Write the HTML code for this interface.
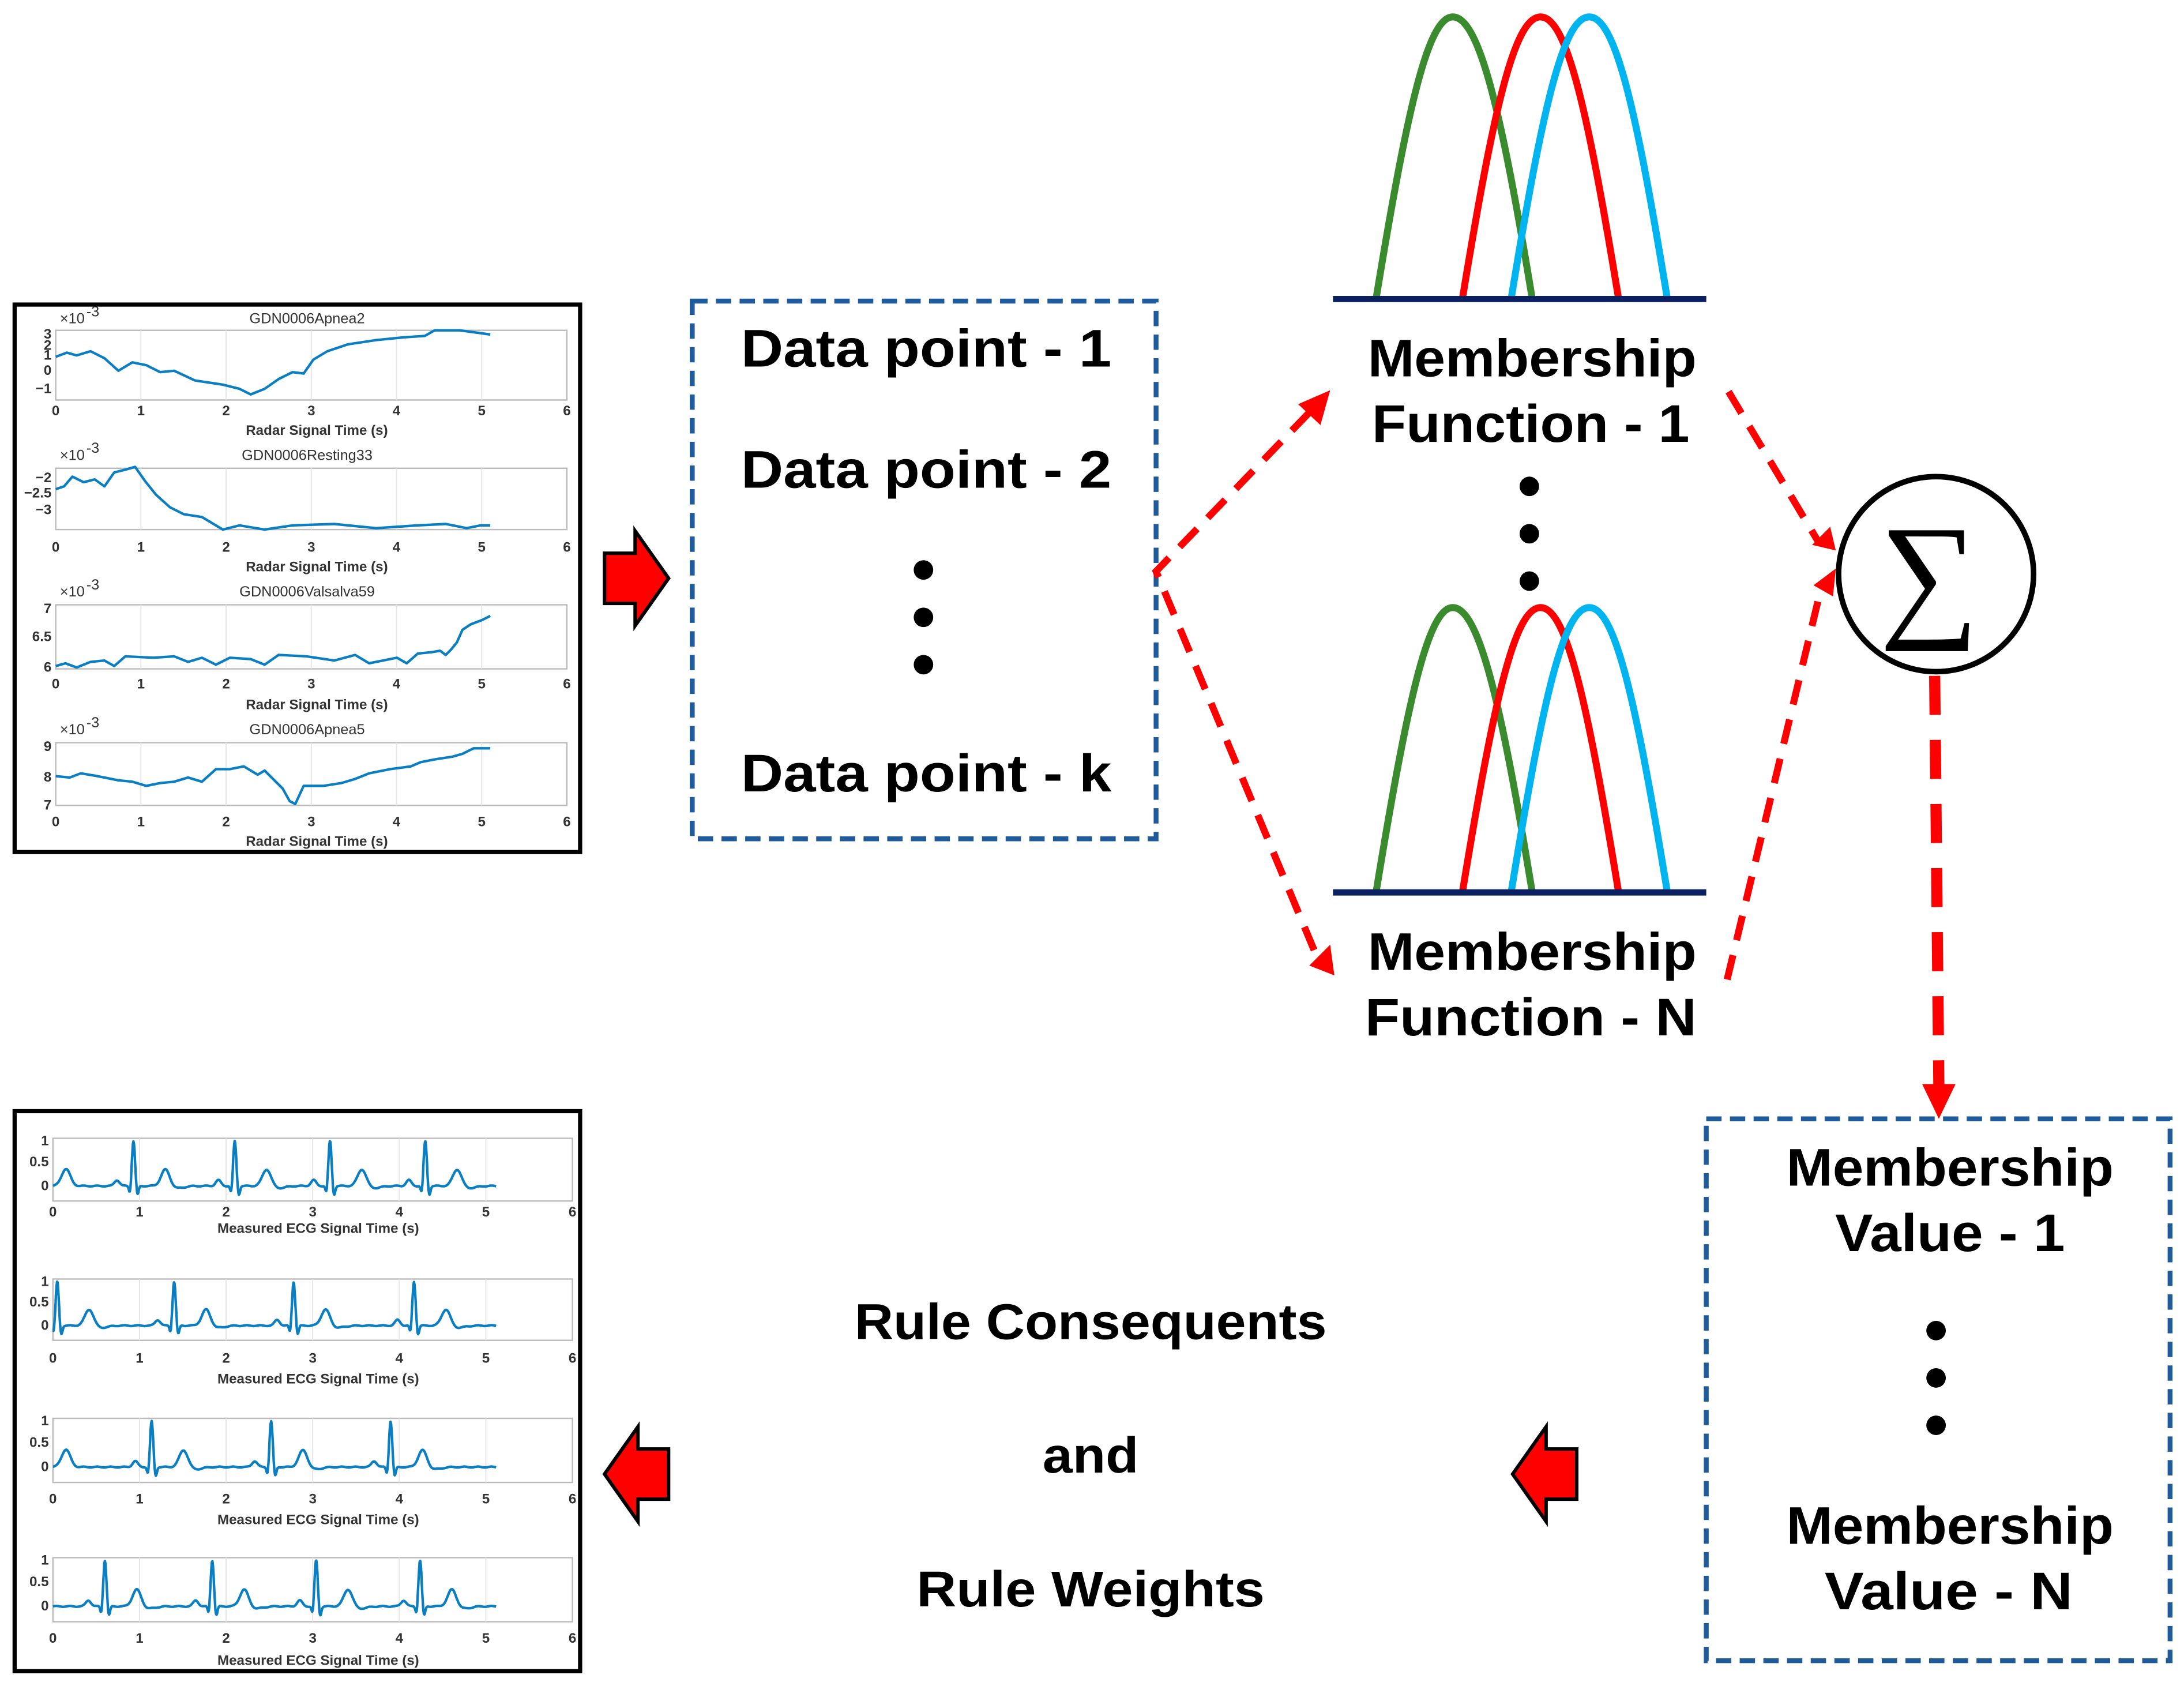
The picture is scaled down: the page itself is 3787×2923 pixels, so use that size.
<!DOCTYPE html>
<html><head><meta charset="utf-8"><style>
html,body{margin:0;padding:0;background:#fff;}
svg{display:block;}
.t{font-family:"Liberation Sans",sans-serif;font-weight:bold;fill:#000;}
.tk{font-family:"Liberation Sans",sans-serif;font-weight:bold;fill:#333;font-size:10px;}
.tt{font-family:"Liberation Sans",sans-serif;fill:#333;font-size:10.5px;}
</style></head><body>
<svg id="s" width="3787" height="2923" viewBox="0 0 1568 1210" xmlns="http://www.w3.org/2000/svg">
<rect x="0" y="0" width="1568" height="1210" fill="#fff"/>
<g id="plots"></g>

<rect x="10.5" y="218.5" width="406" height="393" fill="none" stroke="#000" stroke-width="3"/>
<rect x="10.5" y="797.5" width="406" height="402" fill="none" stroke="#000" stroke-width="3"/>

<polygon points="434,397 456,397 456,381 480,415 456,449 456,433 434,433" fill="#f00" stroke="#000" stroke-width="2.5"/>
<polygon points="480,1040 458,1040 458,1024 434,1058 458,1092 458,1076 480,1076" fill="#f00" stroke="#000" stroke-width="2.5"/>
<polygon points="1132,1040 1110,1040 1110,1024 1086,1058 1110,1092 1110,1076 1132,1076" fill="#f00" stroke="#000" stroke-width="2.5"/>

<rect x="497" y="216" width="333" height="386" fill="none" stroke="#1f5b9a" stroke-width="3.5" stroke-dasharray="11,6"/>
<rect x="1225" y="803" width="333" height="389" fill="none" stroke="#1f5b9a" stroke-width="3.5" stroke-dasharray="11,6"/>

<text class="t" x="665" y="263" font-size="38" text-anchor="middle" textLength="266" lengthAdjust="spacingAndGlyphs">Data point - 1</text>
<text class="t" x="665" y="350" font-size="38" text-anchor="middle" textLength="266" lengthAdjust="spacingAndGlyphs">Data point - 2</text>
<text class="t" x="665" y="568" font-size="38" text-anchor="middle" textLength="266" lengthAdjust="spacingAndGlyphs">Data point - k</text>
<circle cx="663" cy="409" r="7"/><circle cx="663" cy="443" r="7"/><circle cx="663" cy="477" r="7"/>

<g fill="none" stroke-width="5" stroke-linecap="butt">
<path d="M988,214 C1010,80 1025,12 1043,12 C1062,12 1078,80 1100,214" stroke="#3a8a2e"/>
<path d="M1050,214 C1072,80 1087,12 1106,12 C1125,12 1140,80 1162,214" stroke="#f00"/>
<path d="M1085,214 C1107,80 1122,12 1141,12 C1160,12 1175,80 1197,214" stroke="#00b4f0"/>
<path d="M988,640 C1010,506 1025,436 1043,436 C1062,436 1078,506 1100,640" stroke="#3a8a2e"/>
<path d="M1050,640 C1072,506 1087,436 1106,436 C1125,436 1140,506 1162,640" stroke="#f00"/>
<path d="M1085,640 C1107,506 1122,436 1141,436 C1160,436 1175,506 1197,640" stroke="#00b4f0"/>
</g>
<line x1="957" y1="214.5" x2="1225" y2="214.5" stroke="#0b2060" stroke-width="4.5"/>
<line x1="957" y1="640.5" x2="1225" y2="640.5" stroke="#0b2060" stroke-width="4.5"/>

<text class="t" x="1100" y="270" font-size="38" text-anchor="middle" textLength="236" lengthAdjust="spacingAndGlyphs">Membership</text>
<text class="t" x="1099" y="317" font-size="38" text-anchor="middle" textLength="228" lengthAdjust="spacingAndGlyphs">Function - 1</text>
<circle cx="1098" cy="349" r="7"/><circle cx="1098" cy="383" r="7"/><circle cx="1098" cy="417" r="7"/>
<text class="t" x="1100" y="696" font-size="38" text-anchor="middle" textLength="236" lengthAdjust="spacingAndGlyphs">Membership</text>
<text class="t" x="1099" y="743" font-size="38" text-anchor="middle" textLength="238" lengthAdjust="spacingAndGlyphs">Function - N</text>

<circle cx="1390" cy="412" r="70" fill="#fff" stroke="#000" stroke-width="4"/>
<text x="1385" y="446" font-family="Liberation Serif,serif" font-size="100" text-anchor="middle">∑</text>

<g stroke="#f00" stroke-width="5" fill="none" stroke-dasharray="18,11">
<polyline points="940,296 830,410 946,688"/>
<line x1="1241" y1="281" x2="1305" y2="388"/>
<line x1="1240" y1="703" x2="1306" y2="428"/>
</g>
<line x1="1389" y1="485" x2="1392" y2="780" stroke="#f00" stroke-width="8" stroke-dasharray="28,18"/>
<g fill="#f00">
<polygon points="955,280 948,305 932,290"/>
<polygon points="958,700 940,693 955,678"/>
<polygon points="1318,395 1301,391 1314,378"/>
<polygon points="1318,408 1316,428 1302,420"/>
<polygon points="1380,778 1404,778 1392,803"/>
</g>

<text class="t" x="1400" y="851" font-size="38" text-anchor="middle" textLength="235" lengthAdjust="spacingAndGlyphs">Membership</text>
<text class="t" x="1400" y="898" font-size="38" text-anchor="middle" textLength="165" lengthAdjust="spacingAndGlyphs">Value - 1</text>
<circle cx="1390" cy="955" r="7"/><circle cx="1390" cy="989" r="7"/><circle cx="1390" cy="1023" r="7"/>
<text class="t" x="1400" y="1108" font-size="38" text-anchor="middle" textLength="235" lengthAdjust="spacingAndGlyphs">Membership</text>
<text class="t" x="1399" y="1155" font-size="38" text-anchor="middle" textLength="178" lengthAdjust="spacingAndGlyphs">Value - N</text>

<text class="t" x="783" y="961" font-size="36" text-anchor="middle" textLength="339" lengthAdjust="spacingAndGlyphs">Rule Consequents</text>
<text class="t" x="783" y="1057" font-size="36" text-anchor="middle" textLength="69" lengthAdjust="spacingAndGlyphs">and</text>
<text class="t" x="783" y="1153" font-size="36" text-anchor="middle" textLength="250" lengthAdjust="spacingAndGlyphs">Rule Weights</text>
</svg>
<script>
(function(){
var NS="http://www.w3.org/2000/svg",g=document.getElementById("plots");
function el(n,a,txt){var e=document.createElementNS(NS,n);for(var k in a)e.setAttribute(k,a[k]);if(txt!=null)e.textContent=txt;g.appendChild(e);return e;}
function axes(x0,x6,top,bot,tickY,label,labY,labSize,title,titleY,ylabels){
  el("rect",{x:x0,y:top,width:x6-x0,height:bot-top,fill:"#fff",stroke:"#bbb","stroke-width":1});
  for(var i=1;i<6;i++){var x=x0+(x6-x0)*i/6;el("line",{x1:x,y1:top,x2:x,y2:bot,stroke:"#e6e6e6","stroke-width":0.8});}
  for(var i=0;i<=6;i++){var x=x0+(x6-x0)*i/6;el("text",{x:x,y:tickY,"class":"tk","text-anchor":"middle"},String(i));}
  el("text",{x:(x0+x6)/2+4,y:labY,"class":"tk","text-anchor":"middle","font-size":labSize},label);
  if(title){el("text",{x:(x0+x6)/2-3,y:titleY,"class":"tt","text-anchor":"middle"},title);
    el("text",{x:x0+3,y:titleY,"class":"tt","font-size":"9"},"×10");el("text",{x:x0+22,y:titleY-5,"class":"tt","font-size":"7"},"-3");}
  (ylabels||[]).forEach(function(l){el("text",{x:x0-3,y:l[1]+3,"class":"tk","text-anchor":"end","font-size":l[2]||10},l[0]);});
}
function line(pts){el("polyline",{points:pts,fill:"none",stroke:"#0a7ec2","stroke-width":1.8,"stroke-linejoin":"round"});}
axes(40,407,237,287,298,"Radar Signal Time (s)",312,11,"GDN0006Apnea2",232,[["3",240],["2",248],["1",255],["0",266],["−1",279]]);
line("40,256 48,253 55,255 65,252 75,257 85,266 95,260 105,262 115,267 125,266 140,273 160,276 172,279 180,283 190,279 200,272 210,267 218,268 225,258 235,252 250,247 270,244 290,242 305,241 312,237 330,237 345,239 352,240");
axes(40,407,336,380,396,"Radar Signal Time (s)",410,11,"GDN0006Resting33",330,[["−2",343],["−2.5",354],["−3",366]]);
line("40,351 46,349 52,342 60,346 68,344 75,349 82,339 90,337 97,335 104,345 112,355 122,364 132,369 145,371 160,380 172,377 190,380 210,377 240,376 270,379 300,377 320,376 335,379 345,377 352,377");
axes(40,407,434,480,494,"Radar Signal Time (s)",509,11,"GDN0006Valsalva59",428,[["7",437],["6.5",457],["6",479]]);
line("40,478 47,476 55,479 65,475 75,474 82,478 90,471 110,472 125,471 135,475 145,472 155,477 165,472 180,473 190,477 200,470 220,471 240,474 255,470 265,476 275,474 285,472 292,476 300,469 310,468 316,467 320,470 324,466 328,461 332,452 338,448 346,445 352,442");
axes(40,407,533,578,593,"Radar Signal Time (s)",607,11,"GDN0006Apnea5",527,[["9",536],["8",558],["7",578]]);
line("40,557 50,558 58,555 70,557 85,560 95,561 105,564 115,562 125,561 135,558 145,561 155,552 165,552 175,550 185,556 190,553 197,560 203,566 208,575 212,577 218,564 232,564 245,562 255,559 265,555 280,552 295,550 302,547 312,545 325,543 332,541 340,537 352,537");
function ecg(x0,x6,top,bot,beats,extraT){
  var base=top+(bot-top)*0.76, amp=(base-top-1), sx=(x6-x0)/6, pts=[];
  function g1(t,c,w){return Math.exp(-((t-c)*(t-c))/(2*w*w));}
  for(var t=0;t<=5.12;t+=0.006){
    var v=0.01*Math.sin(t*40);
    beats.forEach(function(r){v+=0.13*g1(t,r-0.19,0.03)-0.18*g1(t,r-0.04,0.012)+g1(t,r,0.018)-0.22*g1(t,r+0.045,0.014)+0.38*g1(t,r+0.37,0.05)-0.05*g1(t,r+0.5,0.08);});
    (extraT||[]).forEach(function(c){v+=0.38*g1(t,c,0.05);});
    pts.push((x0+t*sx).toFixed(1)+","+(base-v*amp*0.97).toFixed(1));
  }
  return {pts:pts.join(" "),yl:[["1",top+2],["0.5",top+(base-top)/2],["0",base]]};
}
var E=[[817,862,873,"Measured ECG Signal Time (s)",885,8,[0.93,2.1,3.2,4.3],[0.15],true],
       [918,962,978,"Measured ECG Signal Time (s)",993,11,[0.05,1.4,2.78,4.17],[],false],
       [1018,1064,1079,"Measured ECG Signal Time (s)",1094,11,[1.14,2.52,3.9],[0.15],false],
       [1118,1164,1179,"Measured ECG Signal Time (s)",1195,11,[0.6,1.84,3.04,4.24],[],false]];
E.forEach(function(p){
  var r=ecg(38,411,p[0],p[1],p[6],p[7]);
  axes(38,411,p[0],p[1],p[2],p[3],p[4],p[5],null,0,r.yl.map(function(l){return [l[0],l[1],p[8]?7:10];}));
  line(r.pts);
});
})();
</script>
</body></html>
